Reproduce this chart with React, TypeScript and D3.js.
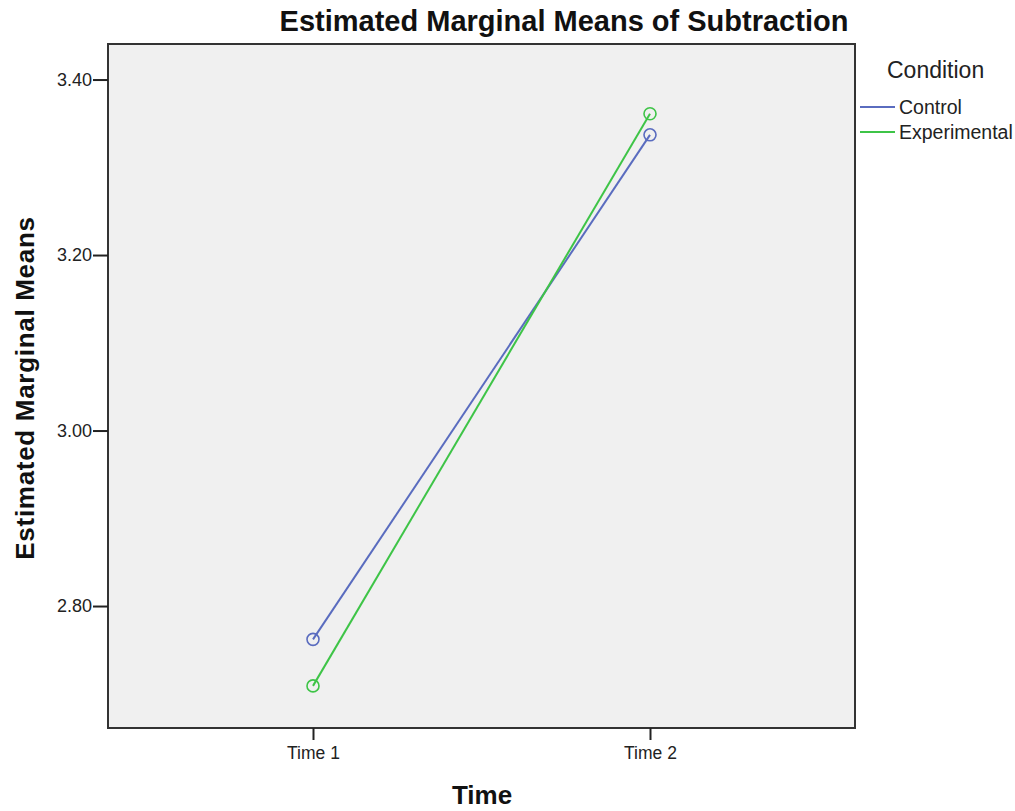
import { useEffect, useRef } from "react"
import * as d3 from "d3"

const times = ["Time 1", "Time 2"]
const conditions = ["Control", "Experimental"]
const controlMeans = [2.762, 3.337]
const experimentalMeans = [2.709, 3.361]
const yTicks = [2.8, 3.0, 3.2, 3.4]
const colors = ["#5a6cbf", "#3ec447"]

export default function App() {
  const svgRef = useRef<SVGSVGElement>(null)

  useEffect(() => {
    if (!svgRef.current) return
    const svg = d3.select(svgRef.current)
    svg.selectAll("*").remove()

    const width = 1015
    const height = 811
    const plot = { left: 108, right: 855, top: 44, bottom: 728 }
    const font = "Liberation Sans, Arial, sans-serif"

    svg.attr("width", width).attr("height", height)
    svg.append("rect").attr("width", width).attr("height", height).attr("fill", "#fff")

    // x positions of Time 1 / Time 2
    const x = d3.scalePoint().domain(times).range([313, 650])
    const y = d3.scaleLinear().domain([2.661, 3.4405]).range([plot.bottom, plot.top])

    svg
      .append("rect")
      .attr("x", plot.left)
      .attr("y", plot.top)
      .attr("width", plot.right - plot.left)
      .attr("height", plot.bottom - plot.top)
      .attr("fill", "#f0f0f0")
      .attr("stroke", "#333")
      .attr("stroke-width", 2)

    // Y axis
    const yAxis = svg
      .append("g")
      .attr("transform", `translate(${plot.left},0)`)
      .call(d3.axisLeft(y).tickValues(yTicks).tickFormat(d3.format(".2f")).tickSize(15).tickSizeOuter(0))
    yAxis.select(".domain").remove()
    yAxis.selectAll("line").attr("stroke", "#222").attr("stroke-width", 2)
    yAxis
      .selectAll("text")
      .attr("x", -16)
      .style("font-family", font)
      .style("font-size", "18px")
      .style("fill", "#222")

    // X axis
    const xAxis = svg
      .append("g")
      .attr("transform", `translate(0,${plot.bottom})`)
      .call(d3.axisBottom(x).tickSize(12).tickSizeOuter(0))
    xAxis.select(".domain").remove()
    xAxis.selectAll("line").attr("stroke", "#222").attr("stroke-width", 2)
    xAxis
      .selectAll("text")
      .attr("y", 19)
      .style("font-family", font)
      .style("font-size", "17.5px")
      .style("fill", "#222")

    const series = [controlMeans, experimentalMeans]
    const line = d3
      .line<number>()
      .x((_, i) => x(times[i]) || 0)
      .y((d) => y(d))

    series.forEach((vals, s) => {
      svg
        .append("path")
        .datum(vals)
        .attr("fill", "none")
        .attr("stroke", colors[s])
        .attr("stroke-width", 2)
        .attr("d", line)
      svg
        .selectAll(`.dot${s}`)
        .data(vals)
        .enter()
        .append("circle")
        .attr("cx", (_, i) => x(times[i]) || 0)
        .attr("cy", (d) => y(d))
        .attr("r", 6)
        .attr("fill", "none")
        .attr("stroke", colors[s])
        .attr("stroke-width", 1.6)
    })

    // Title
    svg
      .append("text")
      .attr("x", 564)
      .attr("y", 31)
      .attr("text-anchor", "middle")
      .style("font-family", font)
      .style("font-size", "29px")
      .style("font-weight", "bold")
      .style("fill", "#111")
      .text("Estimated Marginal Means of Subtraction")

    // Axis titles
    svg
      .append("text")
      .attr("x", 482)
      .attr("y", 804)
      .attr("text-anchor", "middle")
      .style("font-family", font)
      .style("font-size", "26px")
      .style("font-weight", "bold")
      .style("fill", "#111")
      .text("Time")

    svg
      .append("text")
      .attr("transform", "translate(34,388) rotate(-90)")
      .attr("text-anchor", "middle")
      .style("font-family", font)
      .style("font-size", "26px")
      .style("font-weight", "bold")
      .style("letter-spacing", "0.7px")
      .style("fill", "#111")
      .text("Estimated Marginal Means")

    // Legend
    svg
      .append("text")
      .attr("x", 887)
      .attr("y", 78)
      .style("font-family", font)
      .style("font-size", "23px")
      .style("fill", "#222")
      .text("Condition")

    conditions.forEach((c, i) => {
      const ly = 107 + i * 25
      svg
        .append("line")
        .attr("x1", 860)
        .attr("x2", 895)
        .attr("y1", ly)
        .attr("y2", ly)
        .attr("stroke", colors[i])
        .attr("stroke-width", 2)
      svg
        .append("text")
        .attr("x", 899)
        .attr("y", ly + 7)
        .style("font-family", font)
        .style("font-size", "19.5px")
        .style("fill", "#222")
        .text(c)
    })
  }, [])

  return <svg ref={svgRef} style={{ position: "absolute", left: 0, top: 0 }}></svg>
}
